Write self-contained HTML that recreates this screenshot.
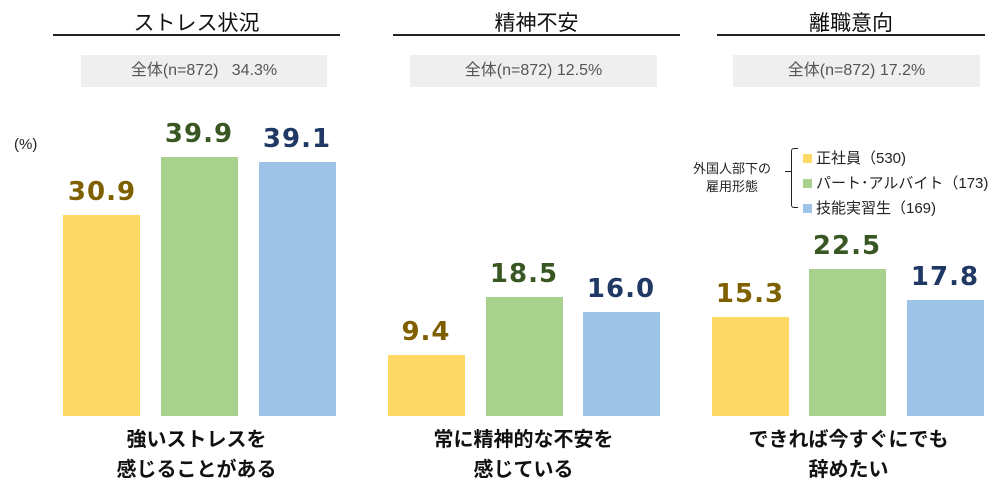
<!DOCTYPE html>
<html><head><meta charset="utf-8"><style>
body{margin:0;width:996px;height:486px;background:#fff;position:relative;overflow:hidden;font-family:"Liberation Sans","Noto Sans CJK JP",sans-serif;}
.a{position:absolute}
.t{font-size:21px;color:#111;text-align:center}
.ln{height:2px;background:#222}
.g{background:#efefef;color:#555;font-size:16px;text-align:center;line-height:32px}
.b{position:absolute;width:77px}
.y{background:#ffd966}.gr{background:#a9d18e}.bl{background:#9dc3e6}
.v{position:absolute;width:100px;text-align:center;font-family:"DejaVu Sans",sans-serif;font-weight:bold;font-size:26px;line-height:30px;letter-spacing:1px}
.vy{color:#7f6000}.vg{color:#385723}.vb{color:#1f3864}
.c{position:absolute;text-align:center;font-weight:bold;font-size:20px;line-height:30px;color:#111;font-family:"Noto Sans CJK JP",sans-serif}
</style></head><body>
<div class="a t" style="left:53px;width:287px;top:7px">ストレス状況</div>
<div class="a t" style="left:393px;width:287px;top:7px">精神不安</div>
<div class="a t" style="left:717px;width:268px;top:7px">離職意向</div>
<div class="a ln" style="left:53px;width:287px;top:34px"></div>
<div class="a ln" style="left:393px;width:287px;top:34px"></div>
<div class="a ln" style="left:717px;width:268px;top:34px"></div>
<div class="a g" style="left:81px;width:246px;top:55px;height:32px">全体(n=872)&nbsp;&nbsp; 34.3%</div>
<div class="a g" style="left:410px;width:247px;top:55px;height:32px">全体(n=872) 12.5%</div>
<div class="a g" style="left:733px;width:247px;top:55px;height:32px">全体(n=872) 17.2%</div>
<div class="a" style="left:14px;top:136px;font-size:15px;color:#222">(%)</div>

<div class="b y" style="left:63px;top:215px;height:201px"></div>
<div class="b gr" style="left:161px;top:157px;height:259px"></div>
<div class="b bl" style="left:259px;top:162px;height:254px"></div>
<div class="v vy" style="left:52px;top:177px">30.9</div>
<div class="v vg" style="left:149px;top:119px">39.9</div>
<div class="v vb" style="left:247px;top:124px">39.1</div>

<div class="b y" style="left:388px;top:355px;height:61px"></div>
<div class="b gr" style="left:486px;top:297px;height:119px"></div>
<div class="b bl" style="left:583px;top:312px;height:104px"></div>
<div class="v vy" style="left:376px;top:317px">9.4</div>
<div class="v vg" style="left:474px;top:259px">18.5</div>
<div class="v vb" style="left:571px;top:274px">16.0</div>

<div class="b y" style="left:712px;top:317px;height:99px"></div>
<div class="b gr" style="left:809px;top:269px;height:147px"></div>
<div class="b bl" style="left:907px;top:300px;height:116px"></div>
<div class="v vy" style="left:700px;top:279px">15.3</div>
<div class="v vg" style="left:797px;top:231px">22.5</div>
<div class="v vb" style="left:895px;top:262px">17.8</div>

<div class="c" style="left:53px;width:287px;top:423px">強いストレスを<br>感じることがある</div>
<div class="c" style="left:380px;width:287px;top:423px">常に精神的な不安を<br>感じている</div>
<div class="c" style="left:705px;width:287px;top:423px">できれば今すぐにでも<br>辞めたい</div>

<div class="a" style="left:693px;top:160px;font-size:13px;line-height:18px;color:#222;text-align:center">外国人部下の<br>雇用形態</div>
<div class="a" style="left:785px;top:171px;width:6px;height:1px;background:#222"></div>
<div class="a" style="left:791px;top:148px;width:6px;height:58px;border:1px solid #222;border-right:none;border-radius:3px 0 0 3px"></div>
<div class="a" style="left:803px;top:146px;font-size:15px;line-height:25px;color:#222">
<div><span style="display:inline-block;width:9px;height:9px;background:#ffd966;margin-right:4px"></span>正社員（530)</div>
<div><span style="display:inline-block;width:9px;height:9px;background:#a9d18e;margin-right:4px"></span>パート･アルバイト（173)</div>
<div><span style="display:inline-block;width:9px;height:9px;background:#9dc3e6;margin-right:4px"></span>技能実習生（169)</div>
</div>
</body></html>
